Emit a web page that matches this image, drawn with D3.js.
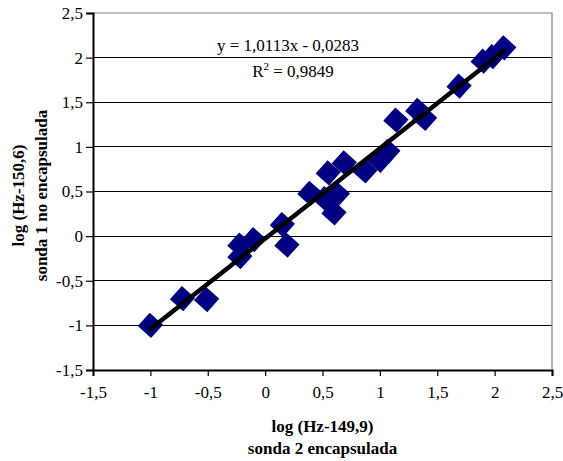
<!DOCTYPE html>
<html>
<head>
<meta charset="utf-8">
<script src="https://cdn.jsdelivr.net/npm/d3@7"></script>
<style>
  html, body { margin: 0; padding: 0; background: #fff; }
  svg { display: block; }
  svg text { font-family: "Liberation Serif", "DejaVu Serif", Times, serif !important; fill: #000; }
</style>
</head>
<body>
<svg id="chart" width="563" height="461"></svg>
<script>
// ---- data ----
const xValues = [-1.0, -0.72, -0.51, -0.22, -0.22, -0.10, 0.15, 0.19, 0.39, 0.52, 0.55, 0.60, 0.63, 0.69, 0.87, 1.00, 1.07, 1.14, 1.33, 1.39, 1.69, 1.90, 1.98, 2.08];
const yValues = [-1.0, -0.70, -0.71, -0.10, -0.23, -0.04, 0.13, -0.10, 0.48, 0.42, 0.71, 0.26, 0.47, 0.82, 0.73, 0.85, 0.95, 1.30, 1.41, 1.32, 1.68, 1.96, 2.01, 2.11];
const xTicks = [-1.5, -1, -0.5, 0, 0.5, 1, 1.5, 2, 2.5];
const yTicks = [-1.5, -1, -0.5, 0, 0.5, 1, 1.5, 2, 2.5];
const slope = 1.0113, intercept = -0.0283;
const equationText = "y = 1,0113x - 0,0283";
const r2Text = "0,9849";
const xTitle = ["log (Hz-149,9)", "sonda 2 encapsulada"];
const yTitle = ["log (Hz-150,6)", "sonda 1 no encapsulada"];

// ---- layout ----
const FONT = "'Liberation Serif', 'DejaVu Serif', Times, serif";
const svg = d3.select("#chart");
const m = { left: 93, top: 13, right: 552, bottom: 370 };
const x = d3.scaleLinear().domain([-1.5, 2.5]).range([m.left, m.right]);
const y = d3.scaleLinear().domain([-1.5, 2.5]).range([m.bottom, m.top]);
const fmt = d => String(d).replace(".", ",");

// gridlines
svg.append("g").selectAll("line")
  .data(yTicks.filter(t => t > -1.5 && t < 2.5))
  .join("line")
  .attr("x1", m.left).attr("x2", m.right)
  .attr("y1", d => y(d)).attr("y2", d => y(d))
  .attr("stroke", "#000").attr("stroke-width", 1)
  .attr("shape-rendering", "crispEdges");

// plot border (top/right gray)
svg.append("path")
  .attr("d", `M${m.left},${m.top}H${m.right}V${m.bottom}`)
  .attr("fill", "none").attr("stroke", "#808080").attr("stroke-width", 1.2);

// axes
const xAxis = d3.axisBottom(x).tickValues(xTicks).tickFormat(fmt).tickSize(6).tickPadding(10);
const yAxis = d3.axisLeft(y).tickValues(yTicks).tickFormat(fmt).tickSize(7).tickPadding(3);

const gx = svg.append("g").attr("transform", `translate(0,${m.bottom})`).call(xAxis);
const gy = svg.append("g").attr("transform", `translate(${m.left},0)`).call(yAxis);
[gx, gy].forEach(g => {
  g.attr("font-family", FONT).attr("font-size", 17);
  g.select(".domain").attr("stroke", "#000").attr("stroke-width", 2);
  g.selectAll(".tick line").attr("stroke", "#000").attr("stroke-width", 1.2);
  g.selectAll(".tick text").style("font-family", FONT).style("font-size", "17px").attr("fill", "#000");
});

// points
const pts = xValues.map((v, i) => [v, yValues[i]]);
const sym = d3.symbol().type(d3.symbolSquare).size(320);
svg.append("g").selectAll("path")
  .data(pts)
  .join("path")
  .attr("d", sym)
  .attr("transform", d => `translate(${x(d[0])},${y(d[1])}) rotate(42)`)
  .attr("fill", "#000080");

// trendline
const xMin = d3.min(xValues), xMax = d3.max(xValues);
svg.append("line")
  .attr("x1", x(xMin)).attr("y1", y(slope * xMin + intercept))
  .attr("x2", x(xMax)).attr("y2", y(slope * xMax + intercept))
  .attr("stroke", "#000").attr("stroke-width", 4.5).attr("stroke-linecap", "round");

// equation
svg.append("text").attr("x", 288).attr("y", 51).attr("text-anchor", "middle")
  .style("font-family", FONT).style("font-size", "17px").text(equationText);
const r2 = svg.append("text").attr("x", 293).attr("y", 77).attr("text-anchor", "middle")
  .style("font-family", FONT).style("font-size", "17px");
r2.append("tspan").text("R");
r2.append("tspan").style("font-size", "11px").attr("dy", -7).text("2");
r2.append("tspan").attr("dy", 7).text(" = " + r2Text);

// axis titles
const title = (tx, ty, rot, s) => svg.append("text")
  .attr("transform", `translate(${tx},${ty}) rotate(${rot})`)
  .attr("text-anchor", "middle")
  .style("font-family", FONT).style("font-weight", "bold").style("font-size", "17px")
  .text(s);
title((m.left + m.right) / 2, 432, 0, xTitle[0]);
title((m.left + m.right) / 2, 454, 0, xTitle[1]);
title(24, (m.top + m.bottom) / 2 + 4, -90, yTitle[0]);
title(47, (m.top + m.bottom) / 2 + 4, -90, yTitle[1]);
</script>
</body>
</html>
